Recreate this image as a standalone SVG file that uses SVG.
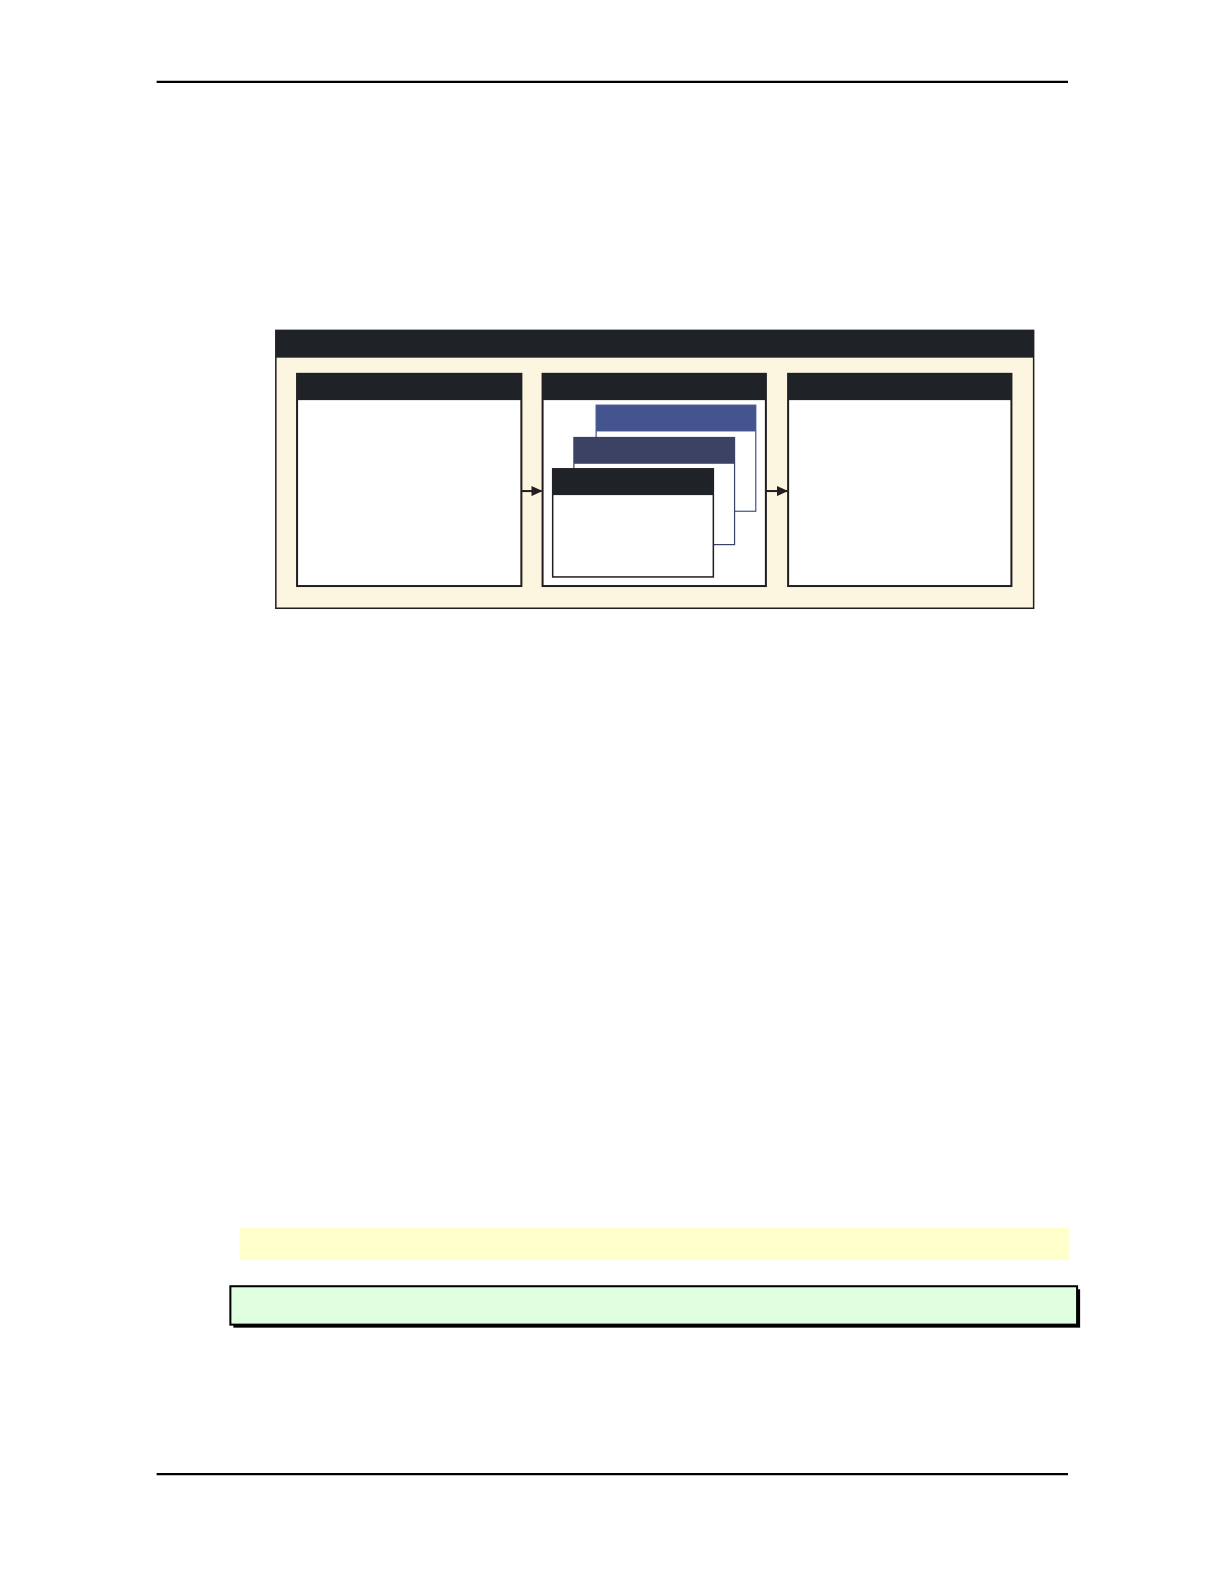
<svg xmlns="http://www.w3.org/2000/svg" width="1224" height="1584" viewBox="0 0 1224 1584">
<style>
.rule{stroke:#000;stroke-width:2.2}
.panel{fill:#fff;stroke:#231f20;stroke-width:2}
.hdr{fill:#1f2328}
.conn{stroke:#231f20;stroke-width:2;fill:none}
</style>
<defs>
<marker id="ah" markerWidth="11" markerHeight="10" refX="10" refY="5" orient="auto" markerUnits="userSpaceOnUse"><path d="M0,0 L11,5 L0,10 z" fill="#231f20"/></marker>
</defs>
<rect width="1224" height="1584" fill="#fff"/>
<g transform="scale(1.0104)">
<line class="rule" x1="155" y1="81" x2="1057" y2="81"/>
<line class="rule" x1="155" y1="1459" x2="1057" y2="1459"/>
<line x1="126" y1="1575" x2="267" y2="1575" stroke="#1a1aa0" stroke-width="1"/>
<g id="outer">
<rect x="273" y="327" width="750" height="275" fill="#fcf5e0" stroke="#231f20" stroke-width="1.5"/>
<rect class="hdr" x="273" y="327" width="750" height="27"/>
</g>
<g id="panel-left">
<rect class="panel" x="294" y="370" width="222" height="210"/>
<rect class="hdr" x="294" y="370" width="222" height="26"/>
</g>
<g id="panel-middle">
<rect class="panel" x="537" y="370" width="221" height="210"/>
<rect class="hdr" x="537" y="370" width="221" height="26"/>
</g>
<g id="panel-right">
<rect class="panel" x="780" y="370" width="221" height="210"/>
<rect class="hdr" x="780" y="370" width="221" height="26"/>
</g>
<g id="card-back">
<rect x="590" y="401" width="158" height="105" fill="#fff" stroke="#43548f" stroke-width="1.2"/>
<rect x="590" y="401" width="158" height="26" fill="#43548f"/>
</g>
<g id="card-mid">
<rect x="568" y="433" width="159" height="106" fill="#fff" stroke="#3b4262" stroke-width="1.2"/>
<rect x="568" y="433" width="159" height="26" fill="#3b4262"/>
</g>
<g id="card-front">
<rect x="547" y="464" width="159" height="107" fill="#fff" stroke="#231f20" stroke-width="1.5"/>
<rect class="hdr" x="547" y="464" width="159" height="26"/>
</g>
<g id="connectors">
<line class="conn" x1="516" y1="486" x2="536" y2="486" marker-end="url(#ah)"/>
<line class="conn" x1="758" y1="486" x2="779" y2="486" marker-end="url(#ah)"/>
</g>
<g id="note-yellow">
<rect x="237" y="1215" width="821" height="32" fill="#ffffcc"/>
</g>
<g id="note-green">
<rect x="231" y="1276" width="838" height="38" fill="#000"/>
<rect x="228" y="1273" width="838" height="38" fill="#e0ffe0" stroke="#000" stroke-width="2"/>
</g>
</g>
</svg>
